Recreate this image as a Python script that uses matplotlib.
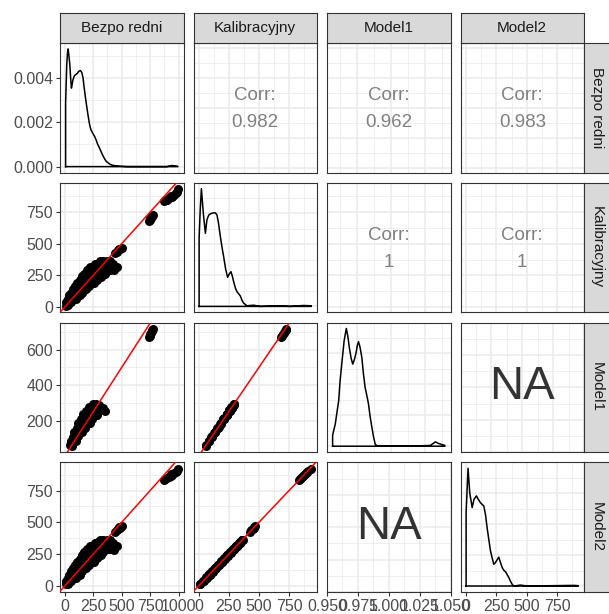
import numpy as np
import matplotlib.pyplot as plt
from matplotlib.ticker import MultipleLocator, FormatStrFormatter

plt.rcParams['font.family'] = ['Liberation Sans', 'DejaVu Sans']

names = ['Bezpo redni', 'Kalibracyjny', 'Model1', 'Model2']

# observations where Model1 is known
bezpo_a = [45, 60, 55, 75, 95, 70, 95, 120, 85, 110, 135, 150, 105, 130, 155, 180,
           120, 145, 170, 195, 220, 140, 165, 190, 215, 240, 160, 185, 210, 235, 260, 285,
           185, 210, 235, 260, 285, 310, 335, 355, 215, 240, 265, 290, 315, 340, 250, 275, 300,
           742, 752, 745, 760, 770, 775, 765]
model1_a = [62, 58, 85, 88, 83, 110, 107, 113, 135, 132, 138, 134, 160, 163, 157, 161,
            185, 182, 188, 184, 186, 210, 213, 207, 211, 209, 235, 232, 238, 234, 236, 233,
            255, 258, 252, 256, 254, 259, 262, 257, 275, 272, 278, 276, 273, 270, 292, 295, 289,
            670, 680, 690, 695, 705, 715, 712]
kalib_a = [60, 64, 88, 84, 86, 106, 112, 110, 138, 130, 135, 137, 157, 166, 160, 158,
           188, 180, 185, 187, 183, 207, 210, 211, 214, 206, 238, 235, 233, 237, 232, 236,
           252, 255, 256, 259, 251, 256, 258, 260, 278, 275, 274, 272, 277, 268, 295, 291, 293,
           680, 690, 700, 706, 716, 728, 722]

# observations where Model2 is known
bezpo_b = [10, 25, 15, 38, 58, 28, 52, 76, 96, 40, 65, 90, 115, 135,
           55, 80, 105, 130, 155, 70, 95, 120, 145, 170, 190,
           90, 115, 140, 165, 190, 215, 110, 135, 160, 185, 210, 235, 255,
           130, 155, 180, 205, 230, 255, 280, 150, 175, 200, 225, 250, 275, 300, 315,
           170, 195, 220, 245, 270, 295, 320, 340,
           195, 220, 245, 270, 295, 320, 345, 370, 400, 430,
           225, 250, 275, 300, 325, 350, 380, 410, 440, 460,
           265, 290, 315, 340, 365, 390, 420, 310, 340, 370, 400,
           440, 455, 470, 485, 500, 475,
           870, 885, 900, 915, 930, 945, 960, 975, 988, 992, 930]
model2_b = [15, 12, 40, 43, 37, 65, 62, 68, 64, 90, 93, 87, 91, 89,
            115, 112, 118, 114, 116, 140, 143, 137, 141, 139, 142,
            165, 162, 168, 164, 166, 163, 190, 193, 187, 191, 189, 192, 188,
            215, 212, 218, 214, 216, 213, 217, 240, 243, 237, 241, 239, 242, 238, 240,
            265, 262, 268, 264, 266, 263, 267, 265,
            290, 293, 287, 291, 289, 292, 288, 290, 294, 286,
            315, 312, 318, 314, 316, 313, 317, 315, 312, 318,
            340, 343, 337, 341, 339, 342, 338, 362, 365, 360, 363,
            425, 438, 448, 458, 468, 460,
            832, 840, 848, 856, 865, 875, 885, 895, 905, 918, 880]
kalib_b = [12, 16, 42, 40, 39, 63, 66, 65, 67, 92, 90, 89, 88, 93,
           113, 115, 117, 116, 112, 142, 140, 139, 143, 138, 140,
           163, 165, 166, 162, 168, 165, 192, 190, 189, 193, 187, 190, 191,
           213, 215, 216, 212, 218, 214, 215, 242, 240, 239, 243, 237, 240, 241, 238,
           263, 265, 266, 262, 268, 264, 265, 267,
           292, 290, 289, 293, 287, 291, 290, 288, 291, 289,
           313, 315, 316, 312, 318, 314, 315, 317, 314, 316,
           342, 340, 339, 343, 337, 341, 340, 364, 362, 361, 365,
           428, 436, 450, 456, 470, 462,
           835, 842, 846, 858, 868, 873, 888, 897, 908, 930, 878]

# density curves on the diagonal
bez_dx = [8, 18, 24, 30, 37, 45, 52, 59, 65, 72, 85, 97, 110, 124, 138, 150, 161, 170,
          180, 191, 202, 215, 223, 231, 247, 263, 276, 290, 300, 313, 326, 340, 353, 366,
          400, 430, 480, 547, 700, 898, 942, 994]
bez_dy = [0.00287, 0.0046, 0.0051, 0.00531, 0.005, 0.0046, 0.004, 0.00354, 0.0037, 0.0039,
          0.0041, 0.00415, 0.0042, 0.0043, 0.00433, 0.00425, 0.004, 0.0036, 0.0032, 0.0028,
          0.00241, 0.002, 0.0018, 0.00166, 0.0015, 0.00136, 0.0012, 0.001, 0.0009, 0.00075,
          0.0006, 0.00045, 0.00033, 0.00023, 0.0001, 0.00005, 0.00002, 0.0, 0.0, 0.0,
          0.00005, 0.00001]
kal_dx = [5, 14, 24, 40, 57, 70, 85, 105, 126, 140, 153, 165, 181, 195, 208, 225, 241, 255,
          269, 280, 291, 305, 318, 346, 360, 373, 401, 456, 511, 676, 759, 869, 935]
kal_dy = [0.00219, 0.0031, 0.0038, 0.003, 0.00236, 0.0028, 0.00295, 0.003, 0.00302,
          0.00302, 0.00295, 0.0027, 0.00225, 0.0019, 0.00161, 0.0012, 0.00094, 0.00105,
          0.00112, 0.00098, 0.0008, 0.0006, 0.00048, 0.00034, 0.0002, 0.00011, 0.00002,
          0.00004, 0.0, 0.00002, 0.0, 0.00003, 0.00002]
m1_dx = [56, 72, 92, 100, 112, 124, 137, 146, 155, 165, 175, 185, 195, 202, 209, 218, 229,
         238, 248, 258, 268, 278, 288, 298, 308, 318, 327, 500, 634, 664, 684, 720]
m1_dy = [0.00071, 0.00145, 0.00295, 0.0042, 0.00551, 0.0068, 0.0076, 0.0071, 0.00636,
         0.0057, 0.0053, 0.0056, 0.00604, 0.0065, 0.00675, 0.0064, 0.00572, 0.0047, 0.0038,
         0.0033, 0.00274, 0.0019, 0.00124, 0.0006, 0.00013, 0.00003, 0.0, 0.0, 0.00005,
         0.00028, 0.00017, 0.00005]
m2_dx = [0, 16, 30, 50, 65, 85, 100, 118, 146, 160, 173, 187, 201, 215, 228, 240, 250, 269,
         284, 298, 312, 325, 352, 366, 380, 393, 449, 504, 890, 925]
m2_dy = [0.00237, 0.0038, 0.003, 0.00253, 0.0028, 0.00291, 0.0028, 0.00269, 0.00258,
         0.0023, 0.00188, 0.0015, 0.00113, 0.0009, 0.0007, 0.00075, 0.00081, 0.00093,
         0.00075, 0.00059, 0.0005, 0.00046, 0.00027, 0.00015, 0.00005, 0.0, 0.00003, 0.0,
         0.00002, 0.00001]

corr_labels = {(0, 1): '0.982', (0, 2): '0.962', (0, 3): '0.983', (1, 2): '1', (1, 3): '1'}
na_panels = [(2, 3), (3, 2)]

var_major = [250, 250, 200, 250]
dens_major = [0.002, 0.001, 0.002, 0.001]

bezpo = np.array(bezpo_a + bezpo_b, float)
kalib = np.array(kalib_a + kalib_b, float)
model1 = np.array(model1_a + [np.nan] * len(bezpo_b), float)
model2 = np.array([np.nan] * len(bezpo_a) + model2_b, float)
values = [bezpo, kalib, model1, model2]
dens_x = [bez_dx, kal_dx, m1_dx, m2_dx]
dens_y = [bez_dy, kal_dy, m1_dy, m2_dy]

lims = []
for dx in dens_x:
    lo, hi = min(dx), max(dx)
    pad = 0.05 * (hi - lo)
    lims.append((lo - pad, hi + pad))

W, H = 609, 614
fig = plt.figure(figsize=(W / 100, H / 100), dpi=100)


def box(x0, y0, w, h):
    return fig.add_axes([x0 / W, 1 - (y0 + h) / H, w / W, h / H])


col_x = [60, 193.5, 327, 460.5]
row_y = [43, 182.8, 322.6, 462.4]
pw, ph = 123.5, 129.5
edge = '#333333'

for i in range(4):
    for j in range(4):
        ax = box(col_x[j], row_y[i], pw, ph)
        xmaj, ymaj = var_major[j], var_major[i]
        fmt_x = fmt_y = FormatStrFormatter('%g')
        if (i, j) in na_panels:
            ax.set_xlim(0.95, 1.05)
            ax.set_ylim(0.95, 1.05)
            xmaj = ymaj = 0.025
            fmt_x = fmt_y = FormatStrFormatter('%.3f')
            ax.text(0.5, 0.5, 'NA', transform=ax.transAxes, ha='center', va='center',
                    fontsize=34, color='#333333')
        elif i == j:
            x = np.array(dens_x[i])
            y = np.array(dens_y[i])
            ax.plot(np.r_[x[0], x, x[-1], x[0]], np.r_[0, y, 0, 0], color='black', lw=1.1)
            top = y.max()
            ax.set_xlim(lims[j])
            ax.set_ylim(-0.05 * top, 1.05 * top)
            ymaj = dens_major[i]
            fmt_y = FormatStrFormatter('%.3f')
        elif i > j:
            m = ~np.isnan(values[j]) & ~np.isnan(values[i])
            ax.scatter(values[j][m], values[i][m], s=42, c='black', linewidths=0, zorder=2)
            ax.axline((0, 0), slope=1, color='red', lw=1.1, zorder=3)
            ax.set_xlim(lims[j])
            ax.set_ylim(lims[i])
        else:
            ax.set_xlim(lims[j])
            ax.set_ylim(lims[i])
            ax.text(0.5, 0.595, 'Corr:', transform=ax.transAxes, ha='center', va='center',
                    fontsize=13.5, color='#808080')
            ax.text(0.5, 0.384, corr_labels[(i, j)], transform=ax.transAxes, ha='center',
                    va='center', fontsize=13.5, color='#808080')

        ax.xaxis.set_major_locator(MultipleLocator(xmaj))
        ax.xaxis.set_minor_locator(MultipleLocator(xmaj / 2))
        ax.yaxis.set_major_locator(MultipleLocator(ymaj))
        ax.yaxis.set_minor_locator(MultipleLocator(ymaj / 2))
        ax.xaxis.set_major_formatter(fmt_x)
        ax.yaxis.set_major_formatter(fmt_y)
        ax.set_axisbelow(True)
        ax.grid(which='major', color='#EBEBEB', lw=1.1)
        ax.grid(which='minor', color='#EBEBEB', lw=0.55)
        for s in ax.spines.values():
            s.set_color(edge)
            s.set_linewidth(0.8)
        ax.tick_params(which='minor', length=0)
        ax.tick_params(which='major', length=3, width=0.8, color=edge,
                       labelsize=11.5, labelcolor='#4D4D4D', pad=2)
        ax.tick_params(axis='y', left=(j == 0), labelleft=(j == 0))
        ax.tick_params(axis='x', bottom=(i == 3), labelbottom=(i == 3))

# facet strips
for j in range(4):
    st = box(col_x[j], 13, pw, 30)
    st.set_facecolor('#D9D9D9')
    st.set_xticks([])
    st.set_yticks([])
    for s in st.spines.values():
        s.set_color(edge)
        s.set_linewidth(0.8)
    st.text(0.5, 0.5, names[j], transform=st.transAxes, ha='center', va='center',
            fontsize=11, color='#1A1A1A')

for i in range(4):
    st = box(584, row_y[i], 26, ph)
    st.set_facecolor('#D9D9D9')
    st.set_xticks([])
    st.set_yticks([])
    for s in st.spines.values():
        s.set_color(edge)
        s.set_linewidth(0.8)
    st.text(0.5, 0.5, names[i], transform=st.transAxes, ha='center', va='center',
            rotation=-90, fontsize=11, color='#1A1A1A')

fig.savefig('out.png', dpi=100, facecolor='white')
